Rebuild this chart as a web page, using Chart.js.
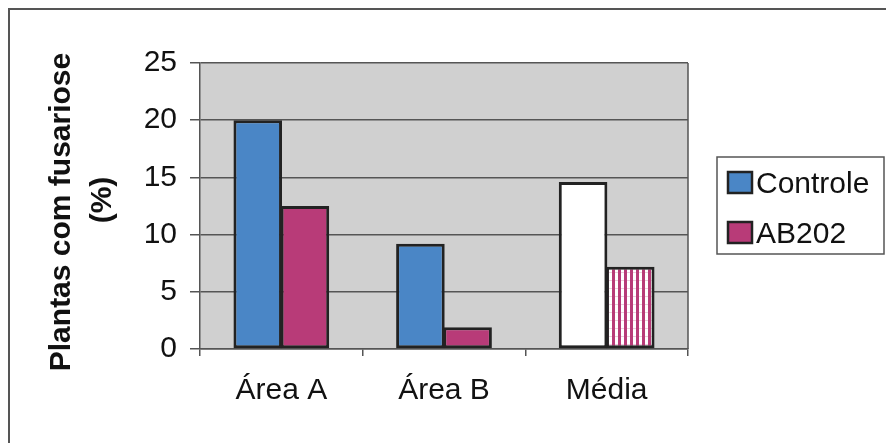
<!DOCTYPE html>
<html>
<head>
<meta charset="utf-8">
<script src="https://cdn.jsdelivr.net/npm/chart.js@4/dist/chart.umd.min.js"></script>
<style>
  html, body { margin: 0; padding: 0; background: #fff; }
  #wrap { width: 886px; height: 443px; }
</style>
</head>
<body>
<div id="wrap"><canvas id="fusChart" width="886" height="443"></canvas></div>
<script>
const categories = ['Área A', 'Área B', 'Média'];
const controle = [20, 9.2, 14.6];
const ab202 = [12.5, 1.9, 7.2];
const yTicks = [0, 5, 10, 15, 20, 25];

const BLUE = '#4a86c6';
const PINK = '#b83b78';
const FONT = '"Liberation Sans", Arial, sans-serif';

// striped fill for the AB202 average bar
function stripes() {
    const c = document.createElement('canvas');
    c.width = 6; c.height = 8;
    const g = c.getContext('2d');
    g.fillStyle = '#fff';
    g.fillRect(0, 0, 6, 8);
    g.fillStyle = 'rgba(184,59,120,0.25)';
    g.fillRect(0, 0, 6, 1);
    g.fillStyle = PINK;
    g.fillRect(0, 0, 3, 8);
    return g.createPattern(c, 'repeat');
}

const frame = {
    id: 'frame',
    beforeDraw(chart) {
        const { ctx, chartArea: a } = chart;
        ctx.save();
        ctx.fillStyle = '#fff';
        ctx.fillRect(0, 0, chart.width, chart.height);
        ctx.strokeStyle = '#555';
        ctx.lineWidth = 2;
        ctx.beginPath();
        ctx.moveTo(9, chart.height);
        ctx.lineTo(9, 9);
        ctx.lineTo(chart.width, 9);
        ctx.stroke();
        ctx.fillStyle = '#d0d0d0';
        ctx.fillRect(a.left, a.top, a.right - a.left, a.bottom - a.top);
        ctx.restore();
    },
    afterDraw(chart) {
        const { ctx, chartArea: a } = chart;
        ctx.save();
        ctx.strokeStyle = '#555';
        ctx.lineWidth = 1.5;
        ctx.beginPath();
        ctx.moveTo(a.right, a.top);
        ctx.lineTo(a.right, a.bottom);
        ctx.stroke();

        // y title
        ctx.fillStyle = '#111';
        ctx.font = 'bold 30px ' + FONT;
        ctx.textAlign = 'center';
        ctx.textBaseline = 'middle';
        ctx.translate(62, 212);
        ctx.rotate(-Math.PI / 2);
        ctx.fillText('Plantas com fusariose', 0, 0);
        ctx.fillText('(%)', 12, 41);
        ctx.restore();

        // legend
        ctx.save();
        ctx.strokeStyle = '#555';
        ctx.lineWidth = 1.5;
        ctx.strokeRect(717, 157, 167, 97);
        const items = chart.data.datasets;
        ctx.font = '30px ' + FONT;
        ctx.textBaseline = 'alphabetic';
        ctx.textAlign = 'left';
        items.forEach((ds, i) => {
            const y = 172 + i * 50;
            ctx.fillStyle = ds.legendColor;
            ctx.fillRect(728, y, 24, 21);
            ctx.strokeStyle = '#222';
            ctx.lineWidth = 2.5;
            ctx.strokeRect(728, y, 24, 21);
            ctx.fillStyle = '#111';
            ctx.fillText(ds.label, 756, y + 21);
        });
        ctx.restore();
    }
};

const pat = stripes();

new Chart(document.getElementById('fusChart'), {
    type: 'bar',
    data: {
        labels: categories,
        datasets: [
            {
                label: 'Controle',
                data: controle,
                backgroundColor: [BLUE, BLUE, '#fff'],
                legendColor: BLUE,
                borderColor: '#222',
                borderWidth: 3,
                borderSkipped: false
            },
            {
                label: 'AB202',
                data: ab202,
                backgroundColor: [PINK, PINK, pat],
                legendColor: PINK,
                borderColor: '#222',
                borderWidth: 3,
                borderSkipped: false
            }
        ]
    },
    options: {
        responsive: false,
        animation: false,
        layout: { padding: { left: 0, top: 63, right: 198, bottom: 0 } },
        plugins: { legend: { display: false }, tooltip: { enabled: false } },
        datasets: { bar: { categoryPercentage: 0.58, barPercentage: 1.03 } },
        scales: {
            x: {
                afterFit(s) { s.height = 94; },
                grid: { display: true, offset: true, drawOnChartArea: false, tickLength: 7, color: '#555', lineWidth: 1.5 },
                border: { color: '#555', width: 1.5 },
                ticks: { color: '#111', font: { family: FONT, size: 30 }, padding: 17 }
            },
            y: {
                min: 0, max: 25,
                afterFit(s) { s.width = 200; },
                afterBuildTicks(s) { s.ticks = yTicks.map(v => ({ value: v })); },
                grid: { color: '#555', lineWidth: 1.5, tickLength: 10 },
                border: { color: '#555', width: 1.5 },
                ticks: { color: '#111', font: { family: FONT, size: 30 }, padding: 13 }
            }
        }
    },
    plugins: [frame]
});
</script>
</body>
</html>
